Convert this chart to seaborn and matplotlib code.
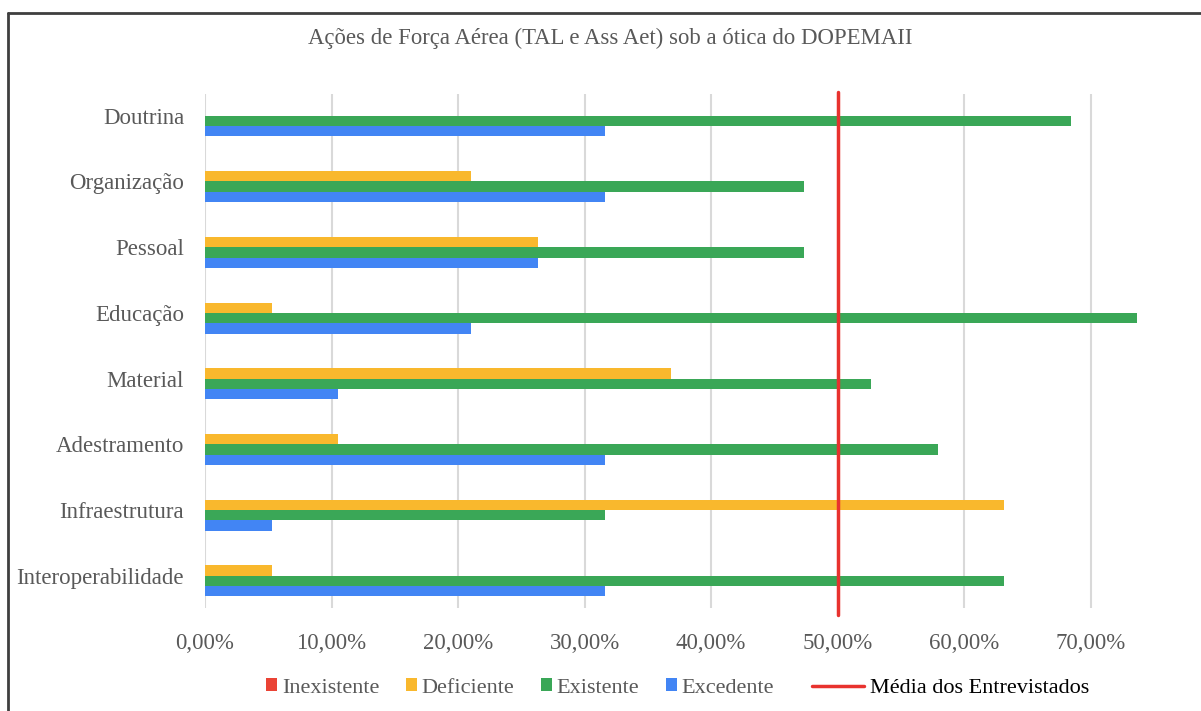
import matplotlib
matplotlib.use("Agg")
import matplotlib.pyplot as plt
import seaborn as sns
import pandas as pd
from matplotlib.patches import Patch
from matplotlib.lines import Line2D
from matplotlib.ticker import FuncFormatter

categories = ["Doutrina", "Organização", "Pessoal", "Educação", "Material",
              "Adestramento", "Infraestrutura", "Interoperabilidade"]
series_names = ["Inexistente", "Deficiente", "Existente", "Excedente"]
inexistente = [0.0, 0.0, 0.0, 0.0, 0.0, 0.0, 0.0, 0.0]
deficiente = [0.0, 0.2105, 0.2632, 0.0526, 0.3684, 0.1053, 0.6316, 0.0526]
existente = [0.6842, 0.4737, 0.4737, 0.7368, 0.5263, 0.5789, 0.3158, 0.6316]
excedente = [0.3158, 0.3158, 0.2632, 0.2105, 0.1053, 0.3158, 0.0526, 0.3158]
media = 0.50
title = "Ações de Força Aérea (TAL e Ass Aet) sob a ótica do DOPEMAII"
line_label = "Média dos Entrevistados"

colors = ["#EA4335", "#F9B82D", "#3AA757", "#4285F4"]

rows = []
for name, vals in zip(series_names, [inexistente, deficiente, existente, excedente]):
    for c, v in zip(categories, vals):
        rows.append({"cat": c, "serie": name, "val": v})
df = pd.DataFrame(rows)

sns.set_style("white")
plt.rcParams["font.family"] = ["Liberation Serif", "DejaVu Serif"]

fig = plt.figure(figsize=(12.01, 7.11), dpi=100)
W, H = 1201, 711
ax_left, ax_right, ax_top, ax_bot = 205, 1192, 94, 608
ax = fig.add_axes([ax_left / W, 1 - ax_bot / H, (ax_right - ax_left) / W, (ax_bot - ax_top) / H])

sns.barplot(data=df, y="cat", x="val", hue="serie", order=categories,
            hue_order=series_names, palette=colors, orient="y",
            width=0.63, gap=0, saturation=1, legend=False, ax=ax, zorder=2,
            linewidth=0, edgecolor="none")

ax.set_xlim(0, 0.78)
ax.set_ylim(7.49, -0.33)
ax.set_xticks([0, 0.1, 0.2, 0.3, 0.4, 0.5, 0.6, 0.7])
ax.xaxis.set_major_formatter(FuncFormatter(lambda v, p: f"{v*100:.2f}%".replace(".", ",")))
ax.grid(axis="x", color="#D9D9D9", linewidth=1.5, zorder=0)
ax.set_axisbelow(True)
for s in ax.spines.values():
    s.set_visible(False)
ax.set_xlabel("")
ax.set_ylabel("")
ax.tick_params(axis="both", length=0, labelsize=16.5, colors="#595959")
ax.tick_params(axis="y", pad=15)
ax.tick_params(axis="x", pad=18)

ax.axvline(media, ymin=-0.013, ymax=1.004, color="#E8322E", linewidth=2.5,
           zorder=4, clip_on=False)

fig.text(610 / W, 1 - 38 / H, title, ha="center",
         va="center", fontsize=16.4, color="#595959")

# border
fig.add_artist(Line2D([7.5 / W, 7.5 / W], [0, 1 - 12.5 / H], transform=fig.transFigure,
                      color="#3F3F3F", linewidth=2))
fig.add_artist(Line2D([7.5 / W, 1], [1 - 12.5 / H, 1 - 12.5 / H], transform=fig.transFigure,
                      color="#3F3F3F", linewidth=2))

handles = [Patch(facecolor=c, edgecolor="none", label=n) for c, n in zip(colors, series_names)]
leg1 = fig.legend(handles=handles, loc="center", bbox_to_anchor=(520 / W, 1 - 688 / H),
                  ncol=4, frameon=False, fontsize=16, handlelength=0.5, handleheight=0.5,
                  handletextpad=0.2, columnspacing=1.2, borderpad=0, labelcolor="#595959")
leg2 = fig.legend(handles=[Line2D([0], [0], color="#E8322E", linewidth=2.5, label=line_label)],
                  loc="center", bbox_to_anchor=(951 / W, 1 - 688 / H), frameon=False,
                  fontsize=16, handlelength=2.3, handletextpad=0.3, borderpad=0,
                  labelcolor="black")

fig.savefig("out.png", dpi=100)
